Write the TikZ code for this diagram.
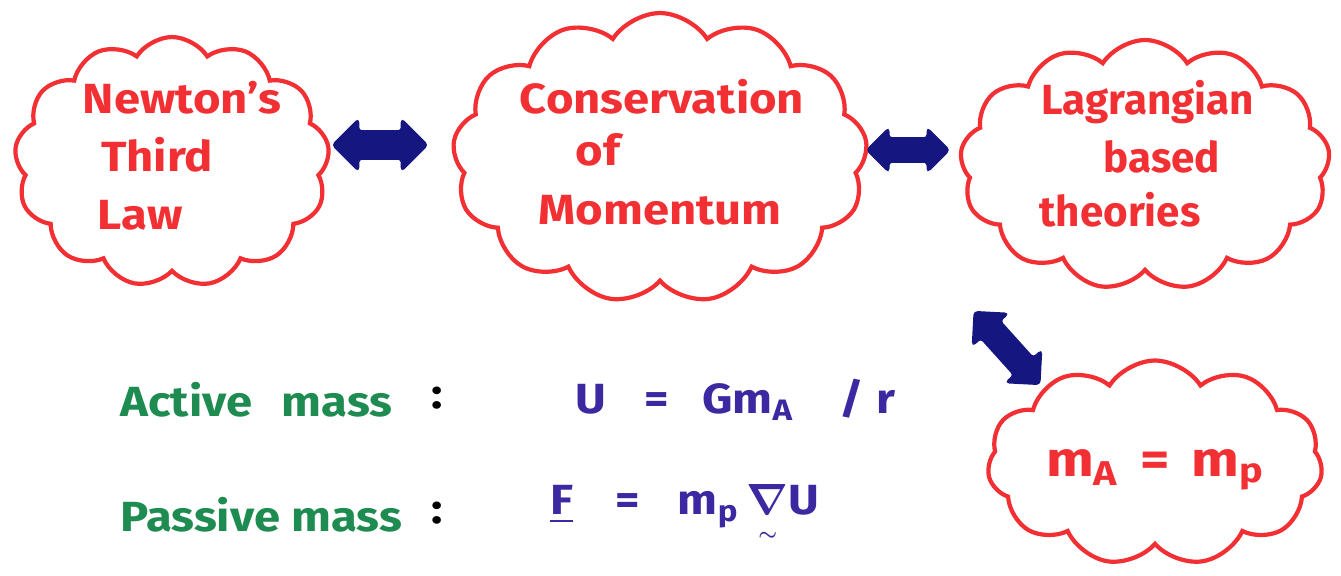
\documentclass[tikz,border=0pt]{standalone}
\usepackage{amsmath}
\usepackage{fontspec}
\setmainfont{Fira Sans}
\usetikzlibrary{shapes.symbols,shapes.arrows}
\definecolor{cred}{RGB}{242,48,52}
\definecolor{cnavy}{RGB}{22,22,128}
\definecolor{cgreen}{RGB}{30,140,80}
\definecolor{cblue}{RGB}{60,40,160}
\tikzset{
  bubble/.style={cloud, cloud puffs=13, cloud puff arc=115, draw=cred, line width=2.4pt, inner sep=0pt},
  hand/.style={font=\bfseries\fontsize{24}{30}\selectfont\addfontfeature{FakeStretch=1.12}, inner sep=0pt},
  redtxt/.style={hand, text=cred},
  narrowtxt/.style={redtxt, font=\bfseries\fontsize{24}{30}\selectfont},
  dblarrow/.style={double arrow, fill=cnavy, draw=cnavy, line width=1pt, rounded corners=2pt, inner xsep=0pt},
}
\begin{document}
\begin{tikzpicture}[x=0.02cm,y=-0.02cm]
\useasboundingbox (0,0) rectangle (1341,575);
% clouds
\node[bubble, minimum width=6.3cm, minimum height=5.0cm] (newton) at (172,162) {};
\node[bubble, minimum width=8.3cm, minimum height=5.8cm] (cons) at (660,158) {};
\node[bubble, minimum width=7.4cm, minimum height=5.0cm] (lag) at (1145,165) {};
\node[bubble, cloud puffs=11, minimum width=6.7cm, minimum height=4.1cm] (equiv) at (1155,463) {};
% cloud texts
\node[redtxt] (n1) at (182,98) {Newton's};
\node[redtxt] (n2) at (157,155) {Third};
\node[redtxt] (n3) at (140,215) {Law};
\node[redtxt] (c1) at (662,97) {Conservation};
\node[redtxt] (c2) at (598,150) {of};
\node[redtxt] (c3) at (660,210) {Momentum};
\node[narrowtxt] (l1) at (1148,102) {Lagrangian};
\node[narrowtxt] (l2) at (1162,157) {based};
\node[narrowtxt] (l3) at (1120,210) {theories};
\node[redtxt, font=\bfseries\fontsize{28}{30}\selectfont\addfontfeature{FakeStretch=1.15}] (eq) at (1155,470) {m\textsubscript{A}\hspace{0.45em}=\hspace{0.45em}m\textsubscript{p}};
% arrows
\node[dblarrow, inner ysep=0.26cm, minimum height=1.9cm, double arrow head extend=0.24cm] (a1) at (380,145) {};
\node[dblarrow, inner ysep=0.22cm, minimum height=1.65cm, double arrow head extend=0.2cm] (a2) at (908,150) {};
\node[dblarrow, inner ysep=0.24cm, minimum height=1.95cm, double arrow head extend=0.22cm, rotate=-48] (a3) at (1007,348) {};
% formulas
\node[hand, text=cgreen, anchor=west] (act) at (120,400) {Active\hspace{0.7em}mass};
\node[hand, text=black] (col1) at (437,398) {:};
\node[hand, text=cblue, anchor=west] (f1) at (575,400) {U\hspace{0.9em}=\hspace{0.8em}Gm\textsubscript{A}\hspace{1.1em}/\hspace{0.3em}r};
\node[hand, text=cgreen, anchor=west] (pas) at (120,515) {Passive mass};
\node[hand, text=black] (col2) at (437,513) {:};
\node[hand, text=cblue, anchor=west] (f2) at (550,515) {\underline{F}\hspace{1.0em}=\hspace{0.9em}m\textsubscript{p}\hspace{0.2em}{\boldmath$\underset{\scriptscriptstyle\sim}{\nabla}$}U};
\end{tikzpicture}
\end{document}
